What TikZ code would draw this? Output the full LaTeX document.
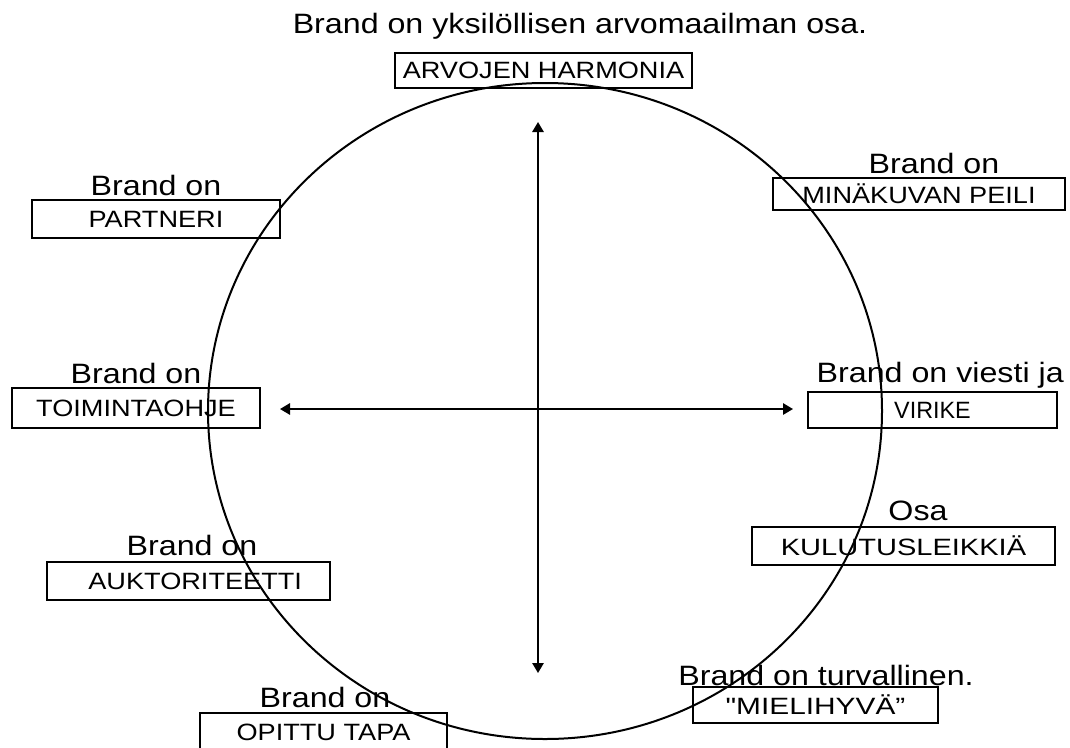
\documentclass[tikz,border=0pt]{standalone}
\usepackage{fontspec}
\usepackage{graphicx}
\setmainfont{Liberation Sans}
\newfontfamily\lblfont[FakeStretch=1.15]{Liberation Sans}
\usetikzlibrary{arrows.meta}

% horizontal-only scaling of a box caption
\newcommand{\wide}[2]{\scalebox{#1}[1]{#2}}

\begin{document}
\begin{tikzpicture}[x=0.75pt, y=-0.75pt,
  caption/.style={font=\lblfont\fontsize{21}{24}\selectfont, inner sep=0pt, anchor=base},
  keybox/.style={draw, line width=1.5pt, font=\lblfont\fontsize{17.7}{20}\selectfont,
                 inner sep=0pt},
  axis/.style={line width=1.4pt, {Triangle[length=7.5pt,width=8.5pt]}-{Triangle[length=7.5pt,width=8.5pt]}}]

  % canvas
  \fill[white] (0,0) rectangle (1070,747);
  \useasboundingbox (0,0) rectangle (1070,747);

  % large ring behind everything
  \coordinate (mid) at (545,411);
  \draw[line width=1.5pt] (mid) ellipse [x radius=252.75pt, y radius=246pt];

  % axes
  \coordinate (top)    at (538,122);
  \coordinate (bottom) at (538,673);
  \coordinate (left)   at (280,409);
  \coordinate (right)  at (793,409);
  \draw[axis] (top) -- (bottom);
  \draw[axis] (left) -- (right);

  % top
  \node[caption] (t1) at (580,33) {Brand on yksilöllisen arvomaailman osa.};
  \node[keybox, minimum width=222.75pt, minimum height=26.25pt] (b1) at (543.5,70.5) {ARVOJEN HARMONIA};

  % upper left
  \node[caption] (t2) at (156,195) {Brand on};
  \node[keybox, minimum width=186pt, minimum height=28.5pt] (b2) at (156,219) {PARTNERI};

  % upper right
  \node[caption] (t3) at (934,173) {Brand on};
  \node[keybox, minimum width=219pt, minimum height=24pt] (b3) at (919,194) {MINÄKUVAN PEILI};

  % left
  \node[caption] (t4) at (136,383) {Brand on};
  \node[keybox, minimum width=186pt, minimum height=30pt] (b4) at (136,408) {TOIMINTAOHJE};

  % right
  \node[caption, anchor=base east] (t5) at (1064,382) {Brand on viesti ja};
  \node[keybox, minimum width=186.75pt, minimum height=27pt] (b5) at (932.5,410) {\wide{0.86}{VIRIKE}};

  % lower left
  \node[caption] (t6) at (192,555) {Brand on};
  \node[keybox, minimum width=212.25pt, minimum height=28.5pt] (b6) at (188.5,581) {\hspace*{10pt}AUKTORITEETTI};

  % lower right
  \node[caption] (t7) at (918,520) {Osa};
  \node[keybox, minimum width=227.25pt, minimum height=28.5pt] (b7) at (903.5,546) {\wide{1.07}{KULUTUSLEIKKIÄ}};

  % bottom left
  \node[caption] (t8) at (325,707) {Brand on};
  \node[keybox, minimum width=185.25pt, minimum height=28.5pt] (b8) at (323.5,732) {OPITTU TAPA};

  % bottom right
  \node[caption] (t9) at (826,685) {Brand on turvallinen.};
  \node[keybox, minimum width=183.75pt, minimum height=27pt] (b9) at (815.5,705) {\wide{1.1}{"MIELIHYVÄ”}};
\end{tikzpicture}
\end{document}
